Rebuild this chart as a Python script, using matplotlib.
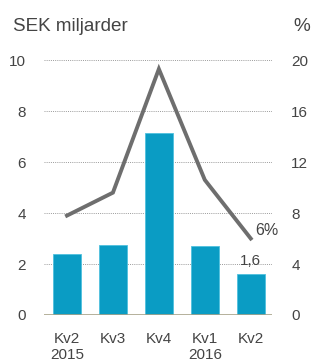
import matplotlib
matplotlib.use("Agg")
import matplotlib.pyplot as plt

categories = ["Kv2\n2015", "Kv3", "Kv4", "Kv1\n2016", "Kv2"]
bar_values = [2.4, 2.75, 7.15, 2.7, 1.6]
line_values = [7.8, 9.6, 19.3, 10.6, 6.0]
left_ticks = [0, 2, 4, 6, 8, 10]
right_ticks = [0, 4, 8, 12, 16, 20]

plt.rcParams['font.family'] = ['Liberation Sans', 'DejaVu Sans']
txt = '#444444'

fig = plt.figure(figsize=(3.13, 3.59), dpi=100)
ax = fig.add_axes([0.1406, 0.1226, 0.728, 0.710])
x = list(range(len(categories)))
ax.bar(x, bar_values, width=0.61, color='#0a9cc4', edgecolor='#4fc0de', linewidth=0.6, zorder=3)
ax.set_xlim(-0.5, 4.46)
ax.set_ylim(0, 10)
for t in left_ticks[1:]:
    ax.axhline(t, color='#9a9a9a', linestyle=(0, (1, 1.2)), linewidth=0.7, zorder=1)
ax.axhline(0, color='#a8a38a', linewidth=1.2, zorder=4)
ax.set_yticks(left_ticks)
ax.set_xticks(x)
ax.set_xticklabels(categories, linespacing=1.25)
for s in ax.spines.values():
    s.set_visible(False)
ax.tick_params(axis='both', length=0, labelsize=11, colors=txt)
ax.tick_params(axis='x', pad=12)
ax.tick_params(axis='y', pad=13)

ax2 = ax.twinx()
ax2.set_ylim(0, 20)
ax2.set_yticks(right_ticks)
ax2.plot(x, line_values, color='#6e6e6e', linewidth=2.8, solid_joinstyle='miter', zorder=5)
for s in ax2.spines.values():
    s.set_visible(False)
ax2.tick_params(axis='y', length=0, labelsize=11, colors=txt, pad=14)

ax2.text(4.1, line_values[4] + 0.3, "6%", fontsize=11.5, color=txt, ha='left', va='baseline')
ax.text(4.0, bar_values[4] + 0.38, "1,6", fontsize=11, color=txt, ha='center', va='baseline', zorder=6)

fig.text(0.042, 0.915, "SEK miljarder", fontsize=13.6, color=txt, ha='left', va='baseline')
fig.text(0.99, 0.915, "%", fontsize=13.6, color=txt, ha='right', va='baseline')

fig.savefig("out.png", dpi=100)
